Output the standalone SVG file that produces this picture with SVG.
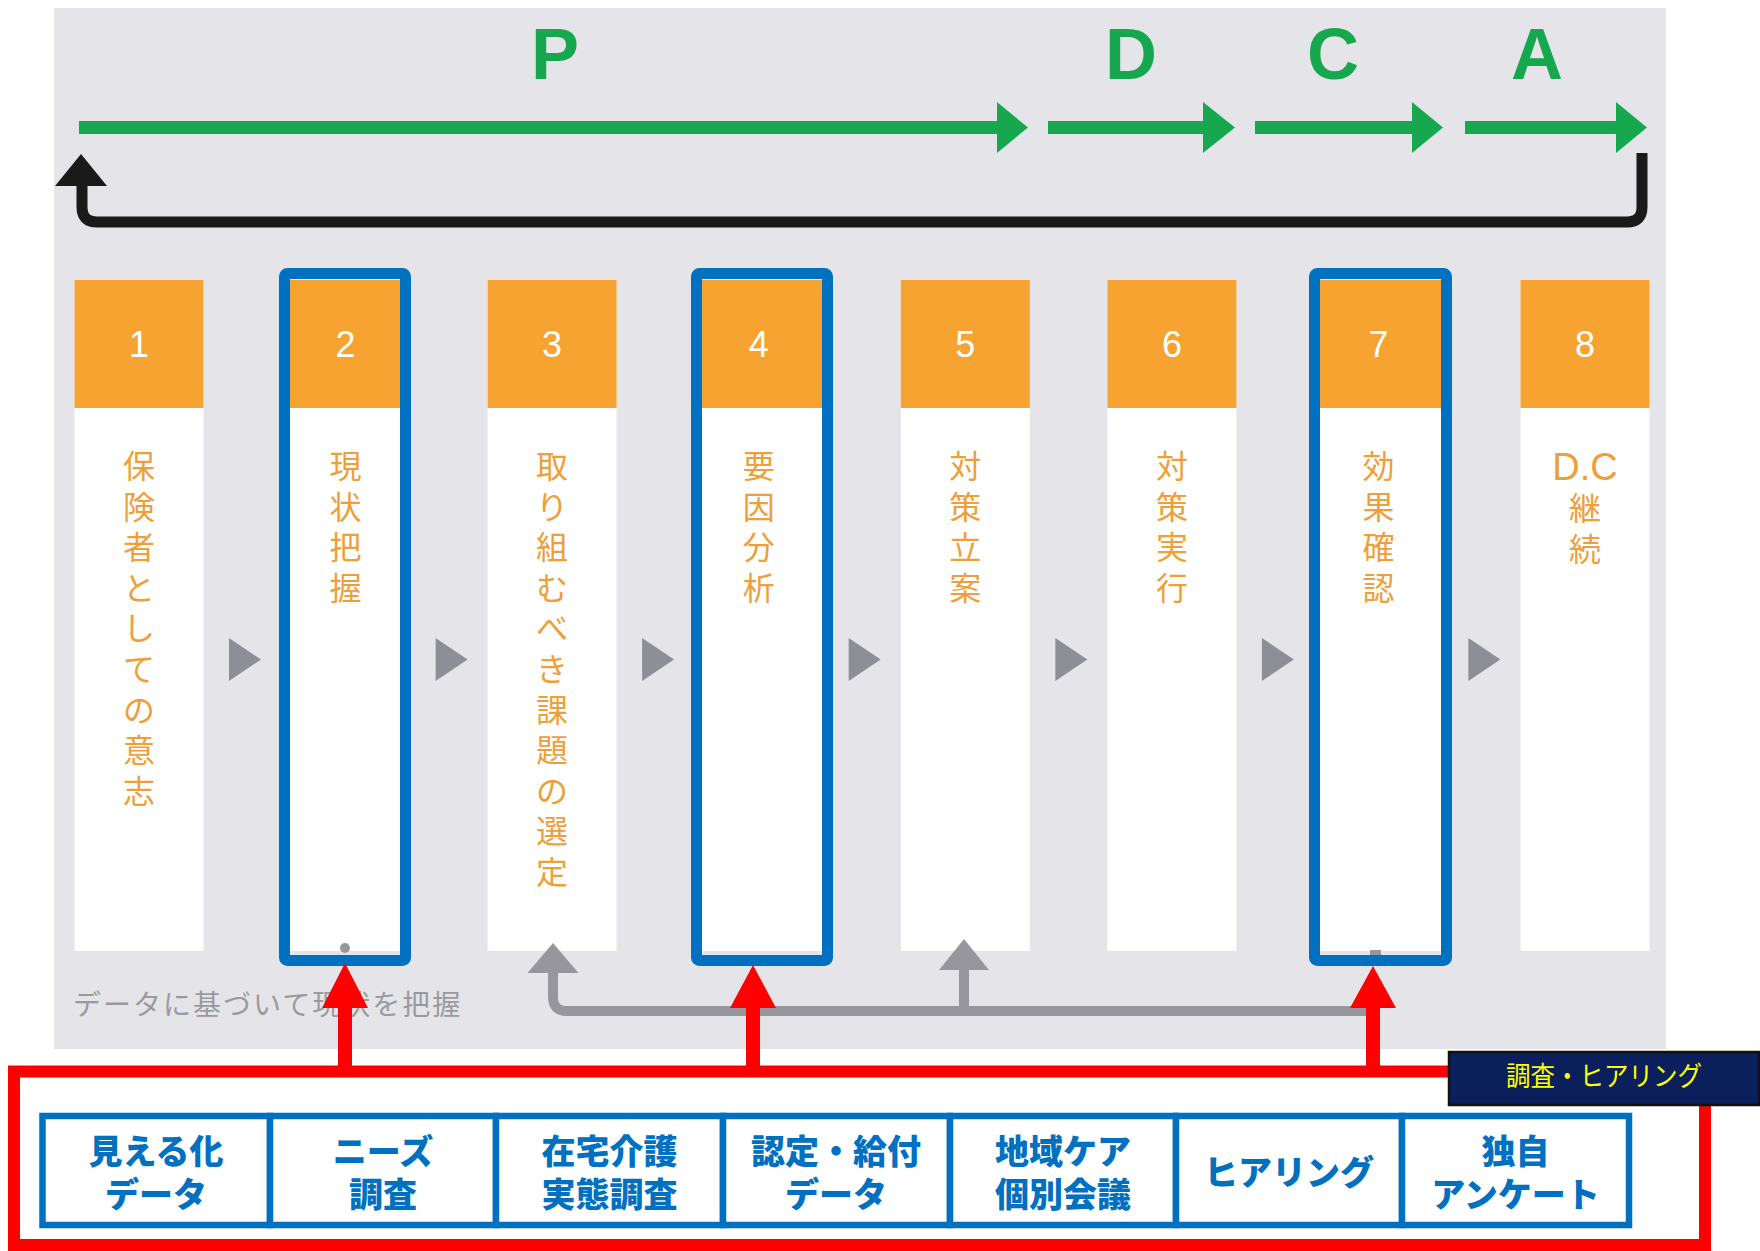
<svg xmlns="http://www.w3.org/2000/svg" width="1760" height="1251" viewBox="0 0 1760 1251">
<defs>
<style>
.bg{fill:#E5E5E9}
.grn{fill:#17A84F}
.pdca{font-family:"Liberation Sans",Arial,sans-serif;font-weight:bold;font-size:72px;fill:#17A84F;text-anchor:middle}
.hdr{fill:#F6A331}
.body{fill:#FFFFFF}
.num{font-family:"Liberation Sans",Arial,sans-serif;font-size:36px;fill:#FFFFFF;text-anchor:middle}
.vt{font-family:"Noto Sans CJK JP","Noto Sans",sans-serif;font-size:32px;fill:#EE9F3A;text-anchor:middle}
.dc{font-family:"Liberation Sans",Arial,sans-serif;font-size:38px;fill:#EE9F3A;text-anchor:middle}
.tri{fill:#8E8E96}
.gconn{fill:none;stroke:#96969C;stroke-width:10}
.gfill{fill:#96969C}
.note{font-family:"Noto Sans CJK JP","Noto Sans",sans-serif;font-size:28px;fill:#9A9A9E;letter-spacing:2px}
.blue{fill:none;stroke:#0070C0;stroke-width:11}
.red{fill:#FF0000}
.redbox{fill:none;stroke:#FF0000;stroke-width:12}
.cell{fill:#FFFFFF;stroke:#0070C0;stroke-width:6.5}
.ct{font-family:"Noto Sans CJK JP","Noto Sans",sans-serif;font-weight:900;font-size:34px;fill:#0070C0;text-anchor:middle}
.lbl{font-family:"Noto Sans CJK JP","Noto Sans",sans-serif;font-size:27px;fill:#FFFF00;text-anchor:middle}
</style>
</defs>
<rect width="1760" height="1251" fill="#FFFFFF"/>
<rect class="bg" x="54" y="8" width="1612" height="1041"/>

<g id="pdca-labels">
<text class="pdca" x="555" y="79">P</text>
<text class="pdca" x="1131" y="79">D</text>
<text class="pdca" x="1333" y="79">C</text>
<text class="pdca" x="1537" y="79">A</text>
</g>

<g id="connectors">
<g id="green-arrows">
<rect class="grn" x="79" y="121" width="920" height="13"/>
<polygon class="grn" points="997,102 1028,127.5 997,153"/>
<rect class="grn" x="1048" y="121" width="157" height="13"/>
<polygon class="grn" points="1203,102 1235,127.5 1203,153"/>
<rect class="grn" x="1255" y="121" width="159" height="13"/>
<polygon class="grn" points="1412,102 1443,127.5 1412,153"/>
<rect class="grn" x="1465" y="121" width="153" height="13"/>
<polygon class="grn" points="1616,102 1647,127.5 1616,153"/>
</g>
<g id="return-arrow">
<path d="M1642 153 V207 Q1642 222 1627 222 H97 Q82 222 82 207 V182" fill="none" stroke="#1A1A1A" stroke-width="11"/>
<polygon points="81,154 55,186 107,186" fill="#1A1A1A"/>
</g>
<g id="step-arrows">
<polygon class="tri" points="229,638 229,681 261,659.5"/>
<polygon class="tri" points="435.6,638 435.6,681 467.6,659.5"/>
<polygon class="tri" points="642.1,638 642.1,681 674.1,659.5"/>
<polygon class="tri" points="848.7,638 848.7,681 880.7,659.5"/>
<polygon class="tri" points="1055.3,638 1055.3,681 1087.3,659.5"/>
<polygon class="tri" points="1261.9,638 1261.9,681 1293.9,659.5"/>
<polygon class="tri" points="1468.4,638 1468.4,681 1500.4,659.5"/>
</g>
</g>

<g id="step1"><rect class="body" x="74.5" y="280" width="129" height="671"/><rect class="hdr" x="74.5" y="280" width="129" height="128"/><text class="num" x="139" y="357">1</text>
<text class="vt" x="139" y="478"><tspan x="139">保</tspan><tspan x="139" dy="40.6">険</tspan><tspan x="139" dy="40.6">者</tspan><tspan x="139" dy="40.6">と</tspan><tspan x="139" dy="40.6">し</tspan><tspan x="139" dy="40.6">て</tspan><tspan x="139" dy="40.6">の</tspan><tspan x="139" dy="40.6">意</tspan><tspan x="139" dy="40.6">志</tspan></text></g>
<g id="step2"><rect class="body" x="281.1" y="280" width="129" height="671"/><rect class="hdr" x="281.1" y="280" width="129" height="128"/><text class="num" x="345.6" y="357">2</text>
<text class="vt" x="345.6" y="478"><tspan x="345.6">現</tspan><tspan x="345.6" dy="40.6">状</tspan><tspan x="345.6" dy="40.6">把</tspan><tspan x="345.6" dy="40.6">握</tspan></text></g>
<g id="step3"><rect class="body" x="487.6" y="280" width="129" height="671"/><rect class="hdr" x="487.6" y="280" width="129" height="128"/><text class="num" x="552.1" y="357">3</text>
<text class="vt" x="552.1" y="478"><tspan x="552.1">取</tspan><tspan x="552.1" dy="40.6">り</tspan><tspan x="552.1" dy="40.6">組</tspan><tspan x="552.1" dy="40.6">む</tspan><tspan x="552.1" dy="40.6">べ</tspan><tspan x="552.1" dy="40.6">き</tspan><tspan x="552.1" dy="40.6">課</tspan><tspan x="552.1" dy="40.6">題</tspan><tspan x="552.1" dy="40.6">の</tspan><tspan x="552.1" dy="40.6">選</tspan><tspan x="552.1" dy="40.6">定</tspan></text></g>
<g id="step4"><rect class="body" x="694.2" y="280" width="129" height="671"/><rect class="hdr" x="694.2" y="280" width="129" height="128"/><text class="num" x="758.7" y="357">4</text>
<text class="vt" x="758.7" y="478"><tspan x="758.7">要</tspan><tspan x="758.7" dy="40.6">因</tspan><tspan x="758.7" dy="40.6">分</tspan><tspan x="758.7" dy="40.6">析</tspan></text></g>
<g id="step5"><rect class="body" x="900.8" y="280" width="129" height="671"/><rect class="hdr" x="900.8" y="280" width="129" height="128"/><text class="num" x="965.3" y="357">5</text>
<text class="vt" x="965.3" y="478"><tspan x="965.3">対</tspan><tspan x="965.3" dy="40.6">策</tspan><tspan x="965.3" dy="40.6">立</tspan><tspan x="965.3" dy="40.6">案</tspan></text></g>
<g id="step6"><rect class="body" x="1107.4" y="280" width="129" height="671"/><rect class="hdr" x="1107.4" y="280" width="129" height="128"/><text class="num" x="1171.9" y="357">6</text>
<text class="vt" x="1171.9" y="478"><tspan x="1171.9">対</tspan><tspan x="1171.9" dy="40.6">策</tspan><tspan x="1171.9" dy="40.6">実</tspan><tspan x="1171.9" dy="40.6">行</tspan></text></g>
<g id="step7"><rect class="body" x="1313.9" y="280" width="129" height="671"/><rect class="hdr" x="1313.9" y="280" width="129" height="128"/><text class="num" x="1378.4" y="357">7</text>
<text class="vt" x="1378.4" y="478"><tspan x="1378.4">効</tspan><tspan x="1378.4" dy="40.6">果</tspan><tspan x="1378.4" dy="40.6">確</tspan><tspan x="1378.4" dy="40.6">認</tspan></text></g>
<g id="step8"><rect class="body" x="1520.5" y="280" width="129" height="671"/><rect class="hdr" x="1520.5" y="280" width="129" height="128"/><text class="num" x="1585" y="357">8</text>
<text class="dc" x="1585" y="480">D.C</text>
<text class="vt" x="1585" y="519.5"><tspan x="1585">継</tspan><tspan x="1585" dy="41.5">続</tspan></text></g>

<g id="feedback-connectors">
<path class="gconn" d="M1368 1011 H567 Q553 1011 553 997 V970"/>
<polygon class="gfill" points="553,943 527.5,973 578.5,973"/>
<path class="gconn" d="M964 1011 V968"/>
<polygon class="gfill" points="964,939 939,970 989,970"/>
<circle class="gfill" cx="345" cy="948" r="5"/>
<rect class="gfill" x="1370" y="950" width="11" height="8"/>
</g>

<g id="note"><text class="note" x="73" y="1015">データに基づいて現状を把握</text></g>

<g id="highlights">
<rect class="blue" x="284.5" y="273.5" width="121" height="687" rx="3"/>
<rect class="blue" x="696.5" y="273.5" width="131" height="687" rx="3"/>
<rect class="blue" x="1314.5" y="273.5" width="132" height="687" rx="3"/>
</g>

<g id="survey-group">
<rect class="redbox" x="14" y="1071.5" width="1691" height="173.5"/>
<g id="red-arrows">
<rect class="red" x="338" y="1004" width="14" height="70"/>
<polygon class="red" points="345,963 322,1008 368,1008"/>
<rect class="red" x="746" y="1004" width="14" height="70"/>
<polygon class="red" points="753,965 730,1008 776,1008"/>
<rect class="red" x="1366" y="1004" width="14" height="70"/>
<polygon class="red" points="1373,966 1350,1008 1396,1008"/>
</g>
<g id="survey-label">
<rect x="1449" y="1052" width="310" height="53" fill="#0A1F5C" stroke="#111111" stroke-width="2.5"/>
<text class="lbl" x="1604" y="1086" textLength="196" lengthAdjust="spacingAndGlyphs">調査・ヒアリング</text>
</g>
<g id="sources">
<g id="src1"><rect class="cell" x="42.5" y="1116" width="227.5" height="109"/><text class="ct" x="156" y="1164">見える化</text><text class="ct" x="156" y="1207">データ</text></g>
<g id="src2"><rect class="cell" x="270" y="1116" width="226" height="109"/><text class="ct" x="383" y="1164">ニーズ</text><text class="ct" x="383" y="1207">調査</text></g>
<g id="src3"><rect class="cell" x="496" y="1116" width="227" height="109"/><text class="ct" x="609.5" y="1164">在宅介護</text><text class="ct" x="609.5" y="1207">実態調査</text></g>
<g id="src4"><rect class="cell" x="723" y="1116" width="227" height="109"/><text class="ct" x="836" y="1164">認定・給付</text><text class="ct" x="836" y="1207">データ</text></g>
<g id="src5"><rect class="cell" x="950" y="1116" width="226" height="109"/><text class="ct" x="1063" y="1164">地域ケア</text><text class="ct" x="1063" y="1207">個別会議</text></g>
<g id="src6"><rect class="cell" x="1176" y="1116" width="226" height="109"/><text class="ct" x="1289" y="1185">ヒアリング</text></g>
<g id="src7"><rect class="cell" x="1402" y="1116" width="227" height="109"/><text class="ct" x="1515.5" y="1164">独自</text><text class="ct" x="1515.5" y="1207">アンケート</text></g>
</g>
</g>
</svg>
